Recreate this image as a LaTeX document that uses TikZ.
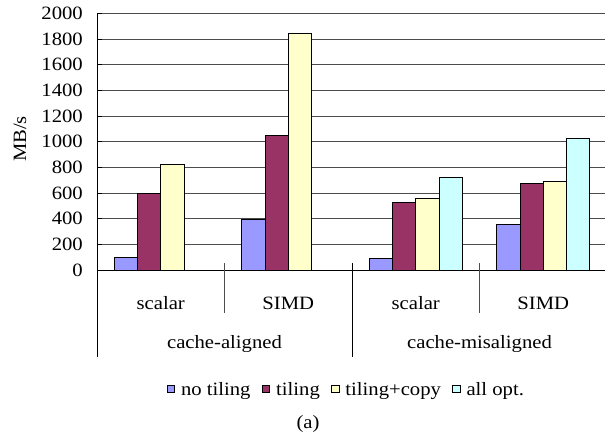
\documentclass[tikz,border=0pt]{standalone}
\usepackage{fontspec}
\setmainfont[FakeStretch=1.1]{Liberation Serif}
\usetikzlibrary{positioning}
\definecolor{notiling}{HTML}{9999FF}
\definecolor{tiling}{HTML}{993366}
\definecolor{tilingcopy}{HTML}{FFFFCC}
\definecolor{allopt}{HTML}{CCFFFF}
\tikzset{
  bar/.style={draw=black,line width=0.9pt},
  gridline/.style={black!70,line width=0.8pt},
  axisline/.style={black,line width=0.8pt},
  legbox/.style={draw=black,line width=0.7pt,minimum size=7.5pt,inner sep=0pt},
  legtext/.style={inner sep=0pt,text height=14.6pt,text depth=0pt},
}
\begin{document}
\begin{tikzpicture}[x=1pt,y=1pt,font=\fontsize{18.8}{22}\selectfont]
        \useasboundingbox (0,0) rectangle (605,437);
        %% plot area, y in MB/s
        \begin{scope}[shift={(97,167)},y=0.12825pt]
            %% grid
            \foreach \v in {200,400,...,2000}
                \draw[gridline] (0,\v) -- (508,\v);
            \foreach \v in {200,400,...,2000}
                \draw[axisline] (0,\v) -- (5,\v);
            \foreach \v in {0,200,...,2000}
                \node[anchor=east,inner sep=0pt] (t\v) at (-14,\v) {\v};
            %% bars
            \foreach \g/\i/\c/\v in {0/0/notiling/100,0/1/tiling/598,0/2/tilingcopy/826,
                                     1/0/notiling/398,1/1/tiling/1046,1/2/tilingcopy/1845,
                                     2/0/notiling/91,2/1/tiling/528,2/2/tilingcopy/561,2/3/allopt/723,
                                     3/0/notiling/356,3/1/tiling/678,3/2/tilingcopy/691,3/3/allopt/1027}
                \draw[bar,fill=\c] ({\g*127.5+17.15+\i*23.3},0) rectangle +(23.3,\v);
        \end{scope}
        %% axes
        \draw[axisline] (97,424) -- (97,80);
        \draw[axisline] (97,167) -- (605,167);
        \foreach \x in {224.5,479.5}
            \draw[axisline,black!70] (\x,174) -- (\x,124);
        \draw[axisline] (352,174) -- (352,80);
        %% categories
        \foreach \x/\t/\n in {160.75/scalar/sa,288.25/SIMD/va,415.75/scalar/sm,543.25/SIMD/vm}
            \node[anchor=base] (\n) at (\x,128) {\t};
        \node[anchor=base] (aligned) at (224.5,89) {cache-aligned};
        \node[anchor=base] (misaligned) at (479.5,89) {cache-misaligned};
        \node[rotate=90] (ylabel) at (20,298) {MB/s};
        %% legend
        \node[legbox,fill=notiling] (knotiling) at (170.75,48.4) {};
        \node[legtext,right=6pt of knotiling] (lnotiling) {no tiling};
        \node[legbox,fill=tiling,right=11pt of lnotiling] (ktiling) {};
        \node[legtext,right=6pt of ktiling] (ltiling) {tiling};
        \node[legbox,fill=tilingcopy,right=11pt of ltiling] (ktilingcopy) {};
        \node[legtext,right=6pt of ktilingcopy] (ltilingcopy) {tiling+copy};
        \node[legbox,fill=allopt,right=11pt of ltilingcopy] (kallopt) {};
        \node[legtext,right=6pt of kallopt] (lallopt) {all opt.};
        \node[anchor=base] (caption) at (308,9) {(a)};
    \end{tikzpicture}
\end{document}
